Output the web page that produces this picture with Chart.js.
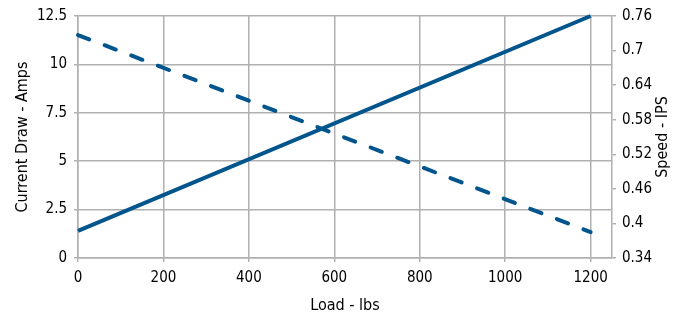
<!DOCTYPE html>
<html>
<head>
<meta charset="utf-8">
<script src="https://cdn.jsdelivr.net/npm/chart.js@4/dist/chart.umd.min.js"></script>
<style>
  html, body { margin: 0; padding: 0; background: #fff; }
</style>
</head>
<body>
<canvas id="chart" width="689" height="321"></canvas>
<script>
const loads = [0, 1200]
const currentDraw = [1.4, 12.5]
const speed = [0.727, 0.385]

const loadTicks = [0, 200, 400, 600, 800, 1000, 1200]
const currentTicks = [0, 2.5, 5, 7.5, 10, 12.5]
const speedTicks = [0.34, 0.4, 0.46, 0.52, 0.58, 0.64, 0.7, 0.76]

const FONT = "'Liberation Sans Narrow', 'DejaVu Sans Condensed', 'Arial Narrow', sans-serif"
const BLUE = '#00558c'
const GRID = '#b0b0b0'
const TEXT = '#000'

Chart.defaults.font.family = FONT
Chart.defaults.font.size = 15
Chart.defaults.color = TEXT

// right title reads bottom-to-top, chart.js only rotates it the other way
const rightTitle = {
    id: 'rightTitle',
    afterDraw(chart) {
        const { ctx, chartArea } = chart
        ctx.save()
        ctx.font = '16px ' + FONT
        ctx.fillStyle = TEXT
        ctx.textAlign = 'center'
        ctx.textBaseline = 'middle'
        ctx.translate(663, (chartArea.top + chartArea.bottom) / 2)
        ctx.rotate(-Math.PI / 2)
        ctx.fillText('Speed - IPS', 0, 0)
        ctx.restore()
    }
}

const data = {
    datasets: [{
        label: 'Current Draw - Amps',
        data: loads.map((x, i) => ({ x, y: currentDraw[i] })),
        yAxisID: 'y',
        borderColor: BLUE,
        borderWidth: 4,
        pointRadius: 0,
        clip: false
    },
    {
        label: 'Speed - IPS',
        data: loads.map((x, i) => ({ x, y: speed[i] })),
        yAxisID: 'y2',
        borderColor: BLUE,
        borderWidth: 4,
        borderDash: [12, 16.5],
        borderCapStyle: 'round',
        pointRadius: 0,
        clip: false
    }]
}

const options = {
    responsive: false,
    animation: false,
    layout: { padding: { top: 14, left: 0, right: 0, bottom: 0 } },
    plugins: { legend: { display: false }, tooltip: { enabled: false } },
    scales: {
        x: {
            type: 'linear',
            min: 0,
            max: 1250,
            afterBuildTicks: (s) => { s.ticks = loadTicks.map(v => ({ value: v })) },
            afterFit: (s) => { s.height = 63 },
            grid: { color: GRID, lineWidth: 1.5, tickLength: 4 },
            border: { color: GRID, width: 1.5 },
            ticks: { padding: 7, maxRotation: 0, callback: (v) => String(v) },
            title: { display: true, text: 'Load - lbs', font: { size: 16 }, padding: { top: 0, bottom: 6 } }
        },
        y: {
            position: 'left',
            min: 0,
            max: 12.5,
            afterBuildTicks: (s) => { s.ticks = currentTicks.map(v => ({ value: v })) },
            afterFit: (s) => { s.width = 78 },
            grid: { color: GRID, lineWidth: 1.5, tickLength: 4 },
            border: { color: GRID, width: 1.5 },
            ticks: { padding: 7, callback: (v) => String(v) },
            title: { display: true, text: 'Current Draw - Amps', font: { size: 16 }, padding: { top: 13, bottom: 0 } }
        },
        y2: {
            position: 'right',
            min: 0.34,
            max: 0.76,
            afterBuildTicks: (s) => { s.ticks = speedTicks.map(v => ({ value: v })) },
            afterFit: (s) => { s.width = 77 },
            grid: { drawOnChartArea: false, color: GRID, lineWidth: 1.5, tickLength: 4 },
            border: { color: GRID, width: 1.5 },
            ticks: { padding: 6, callback: (v) => String(+v.toFixed(2)) }
        }
    }
}

new Chart('chart', { type: 'line', data, options, plugins: [rightTitle] })
</script>
</body>
</html>
